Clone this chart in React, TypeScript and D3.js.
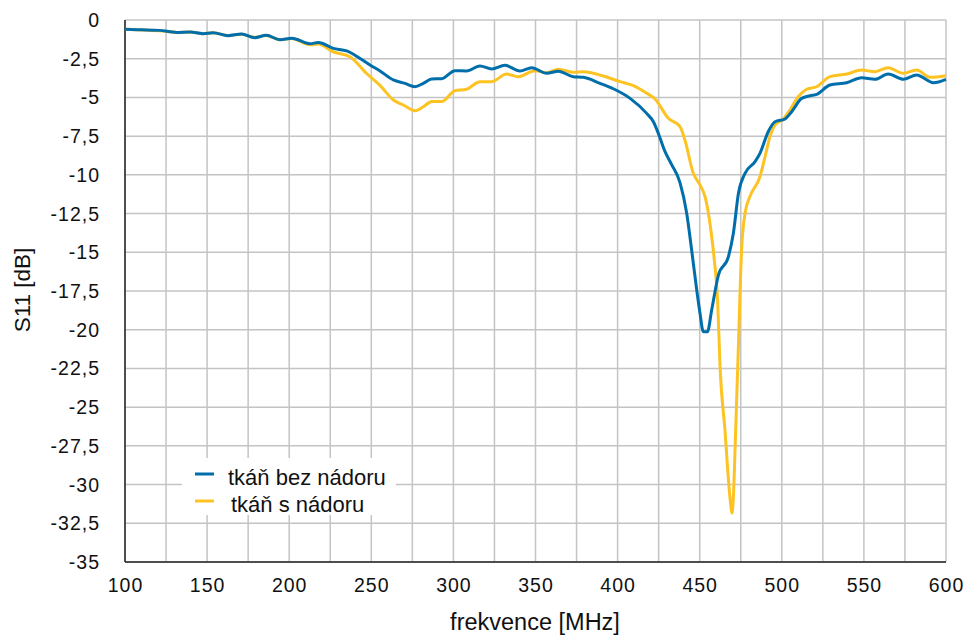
import React from "react";
import * as d3 from "d3";

const blueFreq = [100,110,121,131.5,139.6,147.5,153.6,162.7,171,179,186,194.4,201.5,212.7,217.7,226.9,235,242,249.2,255.3,263.4,270.5,276.6,281.7,286.8,292.9,301,308,316.2,323.3,331.4,340.5,347.7,356.8,363.9,373,379.1,389.3,397.4,407.6,417.7,421.8,424.8,428.9,433,438,442.1,445.1,448.2,450.2,452.2,454.7,457.3,461.4,467.5,470.5,473.6,477.6,483.7,486.7,491.8,495.9,502,506,512.1,517.2,521.2,529.3,539.5,548.6,556.7,564.8,574,582.1,592.3,600];
const blueDb = [-0.6,-0.63,-0.67,-0.8,-0.77,-0.88,-0.82,-1.01,-0.9,-1.14,-0.99,-1.27,-1.18,-1.53,-1.46,-1.83,-2.0,-2.4,-2.9,-3.29,-3.87,-4.09,-4.31,-4.09,-3.81,-3.79,-3.27,-3.29,-2.97,-3.16,-2.93,-3.29,-3.08,-3.44,-3.31,-3.66,-3.7,-4.09,-4.44,-5.06,-6.03,-6.57,-7.32,-8.5,-9.35,-10.5,-12.49,-14.86,-17.44,-18.95,-20.13,-20.13,-18.73,-16.47,-15.28,-13.77,-11.19,-9.9,-9.15,-8.61,-7.2,-6.57,-6.39,-5.92,-5.06,-4.89,-4.8,-4.2,-4.05,-3.73,-3.83,-3.49,-3.83,-3.55,-4.05,-3.83];

const yellowFreq = [100,110,121,131.5,139.6,147.5,153.6,162.7,171,179,186,194.4,201.5,212.7,217.7,226.7,237,247,255.3,263.4,269.5,276.6,281.7,286.8,292.9,301,308,316.2,323.3,332.4,339.5,349.7,356.8,363.9,373,379.1,391.3,401.5,409.6,417.7,422.8,430.9,438,441,446.1,450.2,453.5,456.8,458.9,460.9,462.4,465.4,468.4,469.7,470.5,471.9,473.5,475.5,477.6,480.6,486.7,489.8,492.8,495.9,500.9,505,510,515.2,521.2,529.3,539.5,548.6,556.7,564.8,574,582.1,590.3,600];
const yellowDb = [-0.6,-0.65,-0.7,-0.8,-0.78,-0.88,-0.82,-1.0,-0.92,-1.12,-1.0,-1.27,-1.2,-1.6,-1.55,-2.05,-2.37,-3.44,-4.22,-5.17,-5.49,-5.86,-5.6,-5.27,-5.27,-4.56,-4.47,-3.98,-3.98,-3.49,-3.66,-3.27,-3.4,-3.18,-3.38,-3.34,-3.62,-3.98,-4.24,-4.73,-5.1,-6.35,-6.89,-7.75,-9.9,-10.65,-11.5,-13.56,-15.5,-18.08,-22.4,-26.5,-30.8,-31.85,-30.8,-26.5,-21.3,-14.86,-12.49,-11.4,-10.12,-8.83,-7.53,-6.78,-6.39,-5.81,-4.95,-4.47,-4.31,-3.66,-3.49,-3.23,-3.34,-3.08,-3.44,-3.23,-3.7,-3.6];

const xTicks = [100,150,200,250,300,350,400,450,500,550,600];
const xGrid = d3.range(100, 601, 25);
const yTicks = d3.range(0, -35.01, -2.5);
const seriesNames = ["tkáň bez nádoru", "tkáň s nádoru"];
const seriesColors = ["#006EAA", "#FDC322"];

const W = 965, H = 638;
const M = { left: 125, right: 946, top: 20, bottom: 562 };
const FONT = "'Liberation Sans', Arial, Helvetica, sans-serif";

export default function App() {
  const x = d3.scaleLinear().domain([100, 600]).range([M.left, M.right]);
  const y = d3.scaleLinear().domain([0, -35]).range([M.top, M.bottom]);
  const line = d3.line<[number, number]>().x(d => x(d[0])).y(d => y(d[1])).curve(d3.curveMonotoneX);
  const blue = blueFreq.map((f, i) => [f, blueDb[i]] as [number, number]);
  const yellow = yellowFreq.map((f, i) => [f, yellowDb[i]] as [number, number]);
  const fmt = (v: number) => (v === 0 ? "0" : String(v).replace(".", ","));

  return (
    <svg width={W} height={H} style={{ position: "absolute", left: 0, top: 0 }} fontFamily={FONT}>
      <rect width={W} height={H} fill="#fff" />
      {xGrid.map(v => (
        <line key={"gx" + v} x1={x(v)} x2={x(v)} y1={M.top} y2={M.bottom} stroke="#c4c4c4" strokeWidth={1.5} />
      ))}
      {yTicks.map(v => (
        <line key={"gy" + v} x1={M.left} x2={M.right} y1={y(v)} y2={y(v)} stroke="#c4c4c4" strokeWidth={1.5} />
      ))}
      <line x1={M.left} x2={M.left} y1={M.top} y2={M.bottom} stroke="#222" strokeWidth={1.5} />
      <line x1={M.left} x2={M.right} y1={M.bottom} y2={M.bottom} stroke="#222" strokeWidth={1.5} />
      {yTicks.map(v => (
        <text key={"ty" + v} x={100} y={y(v)} dy="0.36em" textAnchor="end" fontSize={19.5} letterSpacing={1} fill="#111">{fmt(v)}</text>
      ))}
      {xTicks.map(v => (
        <text key={"tx" + v} x={x(v) + 0.5} y={591.5} textAnchor="middle" fontSize={19.5} letterSpacing={1} fill="#111">{v}</text>
      ))}
      <text x={535} y={630} textAnchor="middle" fontSize={23.5} fill="#111">frekvence [MHz]</text>
      <text transform="translate(30,290) rotate(-90)" textAnchor="middle" fontSize={22.5} fill="#111">S11 [dB]</text>
      <path d={line(yellow) || ""} fill="none" stroke={seriesColors[1]} strokeWidth={3} strokeLinejoin="round" />
      <path d={line(blue) || ""} fill="none" stroke={seriesColors[0]} strokeWidth={3} strokeLinejoin="round" />
      <rect x={182} y={458} width={214} height={57} fill="#fff" />
      {seriesNames.map((n, i) => (
        <g key={n} transform={`translate(195,${474 + i * 27})`}>
          <line x1={0} x2={19} y1={0} y2={0} stroke={seriesColors[i]} strokeWidth={3} />
          <text x={i === 0 ? 33 : 36} y={10.5} fontSize={22} fill="#111">{n}</text>
        </g>
      ))}
    </svg>
  );
}
